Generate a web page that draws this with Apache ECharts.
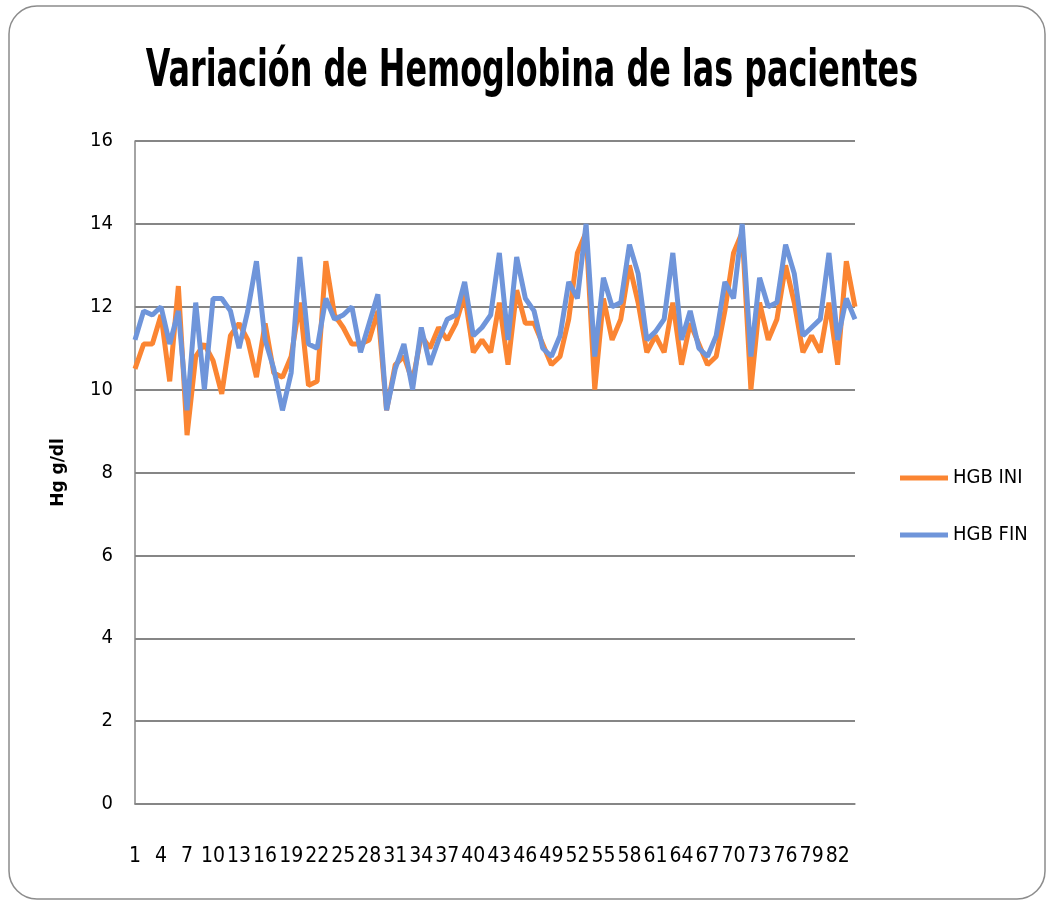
<!DOCTYPE html>
<html>
<head>
<meta charset="utf-8">
<script src="https://cdn.jsdelivr.net/npm/echarts@6/dist/echarts.min.js"></script>
<style>
  html, body { margin: 0; padding: 0; background: #fff; }
  #main { width: 1049px; height: 905px; }
</style>
</head>
<body>
<div id="main"></div>
<script>
// pacientes 1..84
var pacientes = [];
for (var i = 1; i <= 84; i++) pacientes.push(String(i));

var hgbIni = [
  10.5, 11.1, 11.1, 11.8, 10.2, 12.5, 8.9, 10.8, 11.1, 10.7,
  9.9, 11.3, 11.6, 11.2, 10.3, 11.6, 10.4, 10.3, 10.8, 12.1,
  10.1, 10.2, 13.1, 11.8, 11.5, 11.1, 11.1, 11.2, 11.9, 9.5,
  10.6, 10.8, 10.2, 11.3, 11.0, 11.5, 11.2, 11.6, 12.3, 10.9,
  11.2, 10.9, 12.1, 10.6, 12.4, 11.6, 11.6, 11.1, 10.6, 10.8,
  11.7, 13.3, 13.8, 10.0, 12.2, 11.2, 11.7, 13.0, 12.1, 10.9,
  11.3, 10.9, 12.1, 10.6, 11.6, 11.1, 10.6, 10.8, 11.9, 13.3,
  13.8, 10.0, 12.1, 11.2, 11.7, 13.0, 12.1, 10.9, 11.3, 10.9,
  12.1, 10.6, 13.1, 12.0
];

var hgbFin = [
  11.2, 11.9, 11.8, 12.0, 11.1, 11.9, 9.5, 12.1, 10.0, 12.2,
  12.2, 11.9, 11.0, 11.9, 13.1, 11.2, 10.5, 9.5, 10.4, 13.2,
  11.1, 11.0, 12.2, 11.7, 11.8, 12.0, 10.9, 11.6, 12.3, 9.5,
  10.5, 11.1, 10.0, 11.5, 10.6, 11.2, 11.7, 11.8, 12.6, 11.3,
  11.5, 11.8, 13.3, 11.2, 13.2, 12.2, 11.9, 11.0, 10.8, 11.3,
  12.6, 12.2, 14.0, 10.8, 12.7, 12.0, 12.1, 13.5, 12.8, 11.2,
  11.4, 11.7, 13.3, 11.2, 11.9, 11.0, 10.8, 11.3, 12.6, 12.2,
  14.0, 10.8, 12.7, 12.0, 12.1, 13.5, 12.8, 11.3, 11.5, 11.7,
  13.3, 11.2, 12.2, 11.7
];

var font = "'DejaVu Sans Condensed', 'DejaVu Sans', sans-serif";

var myChart = echarts.init(document.getElementById('main'));
var option = {
  backgroundColor: '#ffffff',
  animation: false,
  graphic: [
    {
      type: 'rect',
      shape: { x: 9, y: 6, width: 1036, height: 893, r: 28 },
      style: { fill: 'none', stroke: '#8c8c8c', lineWidth: 1.5 },
      silent: true
    },
    {
      // titulo estrecho como el original
      type: 'text',
      x: 532,
      y: 72,
      scaleX: 0.68,
      style: {
        text: 'Variación de Hemoglobina de las pacientes',
        fontFamily: font,
        fontWeight: 'bold',
        fontSize: 52,
        fill: '#000',
        textAlign: 'center',
        textVerticalAlign: 'middle'
      },
      silent: true
    }
  ],
  legend: {
    orient: 'vertical',
    left: 895,
    top: 463,
    icon: 'rect',
    itemWidth: 48,
    itemHeight: 5,
    itemGap: 37,
    textStyle: { fontFamily: font, fontSize: 20, color: '#000' },
    data: ['HGB INI', 'HGB FIN']
  },
  grid: { left: 135, right: 194, top: 141, bottom: 101 },
  xAxis: {
    type: 'category',
    data: pacientes,
    boundaryGap: false,
    axisLine: { lineStyle: { color: '#868686', width: 1.5 } },
    axisTick: { show: false },
    axisLabel: {
      interval: 2,
      margin: 42,
      fontFamily: font,
      fontSize: 21,
      color: '#000'
    }
  },
  yAxis: {
    type: 'value',
    min: 0,
    max: 16,
    interval: 2,
    name: 'Hg g/dl',
    nameLocation: 'middle',
    nameRotate: 90,
    nameGap: 68,
    nameTextStyle: { fontFamily: "'DejaVu Sans', sans-serif", fontWeight: 'bold', fontSize: 17, color: '#000' },
    axisLine: { show: true, lineStyle: { color: '#868686', width: 1.5 } },
    axisTick: { show: false },
    splitLine: { lineStyle: { color: '#868686', width: 2 } },
    axisLabel: { margin: 22, fontFamily: font, fontSize: 20, color: '#000' }
  },
  series: [
    {
      name: 'HGB INI',
      type: 'line',
      data: hgbIni,
      showSymbol: false,
      symbol: 'none',
      color: '#fb8532',
      lineStyle: { width: 5, color: '#fb8532' }
    },
    {
      name: 'HGB FIN',
      type: 'line',
      data: hgbFin,
      showSymbol: false,
      symbol: 'none',
      color: '#6f95da',
      lineStyle: { width: 5, color: '#6f95da' }
    }
  ]
};
myChart.setOption(option);
</script>
</body>
</html>
